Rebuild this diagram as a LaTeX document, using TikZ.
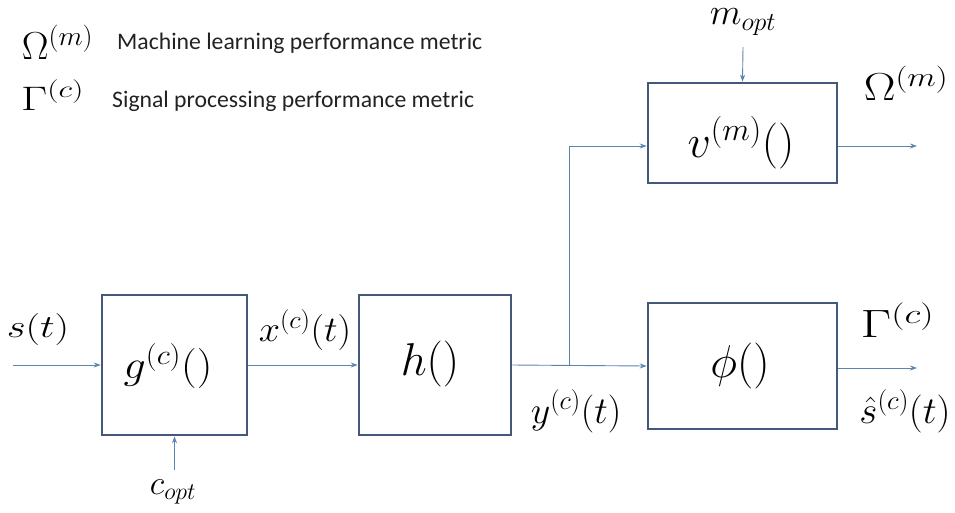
\RequirePackage{fix-cm}
\documentclass[tikz,border=0pt]{standalone}
\usepackage{fontspec}
\newfontfamily\calfont{Carlito}
\usetikzlibrary{arrows.meta}
\definecolor{boxc}{HTML}{44597A}
\definecolor{arrc}{HTML}{5B84B1}
\definecolor{legc}{HTML}{222222}
\tikzset{
  blk/.style={draw=boxc, line width=2.6pt, inner sep=0pt},
  sig/.style={draw=arrc, line width=0.9pt, -{Stealth[length=7pt,width=5pt]}},
  lbl/.style={inner sep=0pt, text=black},
  legtxt/.style={inner sep=0pt, anchor=west, text=legc, font=\calfont\fontsize{23.7}{28}\selectfont}
}
\newcommand{\fs}[1]{\fontsize{#1}{#1}\selectfont}
\begin{document}
\begin{tikzpicture}[x=1pt,y=-1pt]
\useasboundingbox (0,0) rectangle (955,512);
% blocks
\node[blk, minimum width=145pt, minimum height=140pt] (g) at (174.5,365) {};
\node[blk, minimum width=152pt, minimum height=140pt] (h) at (435,365) {};
\node[blk, minimum width=189pt, minimum height=100pt] (v) at (742.5,133) {};
\node[blk, minimum width=189pt, minimum height=126pt] (p) at (742.5,366) {};
% block texts
\node[lbl, font=\fs{40}, xscale=1.1] (gt) at (168,366) {$g^{(c)}()$};
\node[lbl, font=\fs{46}] (ht) at (430,364) {$h()$};
\node[lbl, font=\fs{46}] (vt) at (741,143) {$v^{(m)}()$};
\node[lbl, font=\fs{46}] (pt) at (740,366) {$\phi()$};
% coordinates
\coordinate (in) at (13,365);
\coordinate (br) at (569,365);
\coordinate (vo) at (917,146);
\coordinate (po) at (917,368);
\coordinate (mo) at (743,47);
\coordinate (co) at (174.5,470);
% connectors
\draw[sig] (in) -- (g.west);
\draw[sig] (g.east) -- (h.west);
\draw[sig] (h.east) -- (p.west);
\draw[sig] (br) |- ([yshift=-13pt]v.west);
\draw[sig] ([yshift=-13pt]v.east) -- (vo);
\draw[sig] ([yshift=-2pt]p.east) -- (po);
\draw[sig] (mo) -- (v.north);
\draw[sig] (co) -- (g.south);
% signal labels
\node[lbl, font=\fs{32}, xscale=1.28] (st) at (38,329) {$s(t)$};
\node[lbl, font=\fs{36}, xscale=1.06] (xt) at (305,330) {$x^{(c)}(t)$};
\node[lbl, font=\fs{38}] (yt) at (576,411) {$y^{(c)}(t)$};
\node[lbl, font=\fs{38}, xscale=1.03] (sh) at (905,411) {$\hat{s}^{(c)}(t)$};
\node[lbl, font=\fs{39.5}, xscale=1.35] (gr) at (897.5,320) {$\Gamma^{(c)}$};
\node[lbl, font=\fs{39}, xscale=1.22] (om) at (906,83.5) {$\Omega^{(m)}$};
\node[lbl, font=\fs{37}] (mt) at (743,22) {$m_{opt}$};
\node[lbl, font=\fs{34}] (ct) at (173,492) {$c_{opt}$};
% legend
\node[lbl, font=\fs{39}, xscale=1.03] (lo) at (57.5,42.5) {$\Omega^{(m)}$};
\node[lbl, font=\fs{34}, xscale=1.34] (lg) at (52.5,95) {$\Gamma^{(c)}$};
\node[legtxt] (lot) at (117,43) {Machine learning performance metric};
\node[legtxt] (lgt) at (112,101) {Signal processing performance metric};
\end{tikzpicture}
\end{document}
